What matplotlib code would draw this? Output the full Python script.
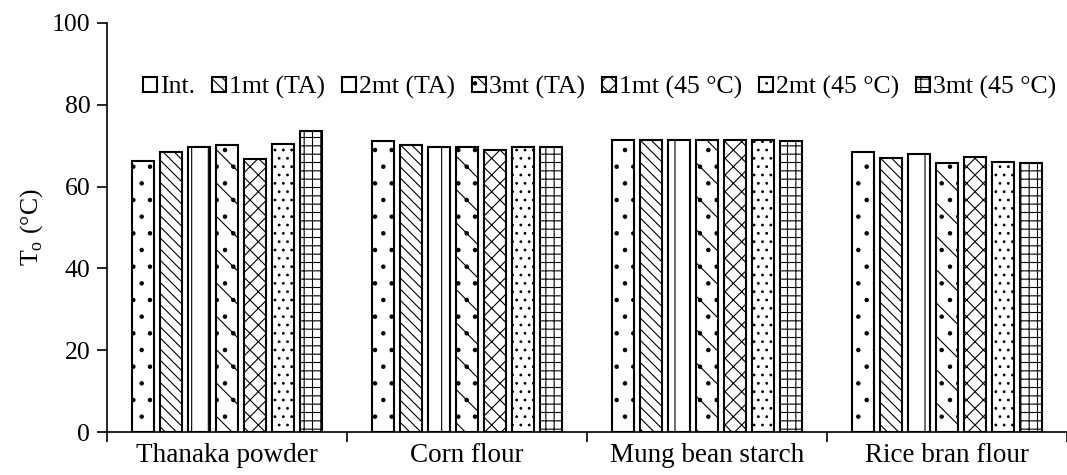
import matplotlib.pyplot as plt
import numpy as np

plt.rcParams['font.family'] = ['Liberation Serif', 'DejaVu Serif']
plt.rcParams['hatch.linewidth'] = 0.8
plt.rcParams['mathtext.fontset'] = 'custom'
plt.rcParams['mathtext.rm'] = 'Liberation Serif'

categories = ['Thanaka powder', 'Corn flour', 'Mung bean starch', 'Rice bran flour']
series = ['Int.', '1mt (TA)', '2mt (TA)', '3mt (TA)', '1mt (45 °C)', '2mt (45 °C)', '3mt (45 °C)']

int_vals = [66.3, 71.1, 71.4, 68.5]
ta1_vals = [68.5, 70.1, 71.4, 66.9]
ta2_vals = [69.6, 69.8, 71.4, 67.9]
ta3_vals = [70.2, 69.8, 71.3, 65.7]
h1_vals = [66.7, 68.9, 71.4, 67.3]
h2_vals = [70.4, 69.6, 71.3, 65.9]
h3_vals = [73.6, 69.8, 71.1, 65.7]

values = [int_vals, ta1_vals, ta2_vals, ta3_vals, h1_vals, h2_vals, h3_vals]
hatches = ['.', '\\\\\\', '|', '\\.', 'xx', '..', '++']

fig = plt.figure(figsize=(10.67, 4.75), dpi=100)
ax = fig.add_axes([0.1003, 0.0905, 0.8997, 0.8611])

step = 0.1167
width = 0.09
x = np.arange(len(categories)) + 0.5
for i, (name, vals) in enumerate(zip(series, values)):
    ax.bar(x + (i - 3) * step, vals, width, label=name, color='white',
           edgecolor='black', linewidth=1.5, hatch=hatches[i])

ax.set_xlim(0, 4)
ax.set_ylim(0, 100)
ax.set_yticks(range(0, 101, 20))
ax.set_xticks(range(0, 5))
ax.set_xticklabels([])
ax.set_xticks(x, minor=True)
ax.set_xticklabels(categories, minor=True, fontsize=19.5)
ax.tick_params(axis='x', which='minor', length=0, pad=8)
ax.tick_params(axis='x', which='major', direction='out', length=7, width=1.2)
ax.tick_params(axis='y', direction='out', length=7, width=1.2, pad=5, labelsize=18.5)
for s in ['top', 'right']:
    ax.spines[s].set_visible(False)
for s in ['left', 'bottom']:
    ax.spines[s].set_linewidth(1.2)

ax.set_ylabel(r'T$_\mathrm{o}$ (°C)', fontsize=18.5, labelpad=5)

ax.legend(loc='center', bbox_to_anchor=(0.513, 0.843), ncol=7, frameon=False,
          fontsize=18.5, handlelength=0.55, handleheight=0.55, handletextpad=0.12,
          columnspacing=0.65, borderaxespad=0)

plt.savefig('out.png', dpi=100)
